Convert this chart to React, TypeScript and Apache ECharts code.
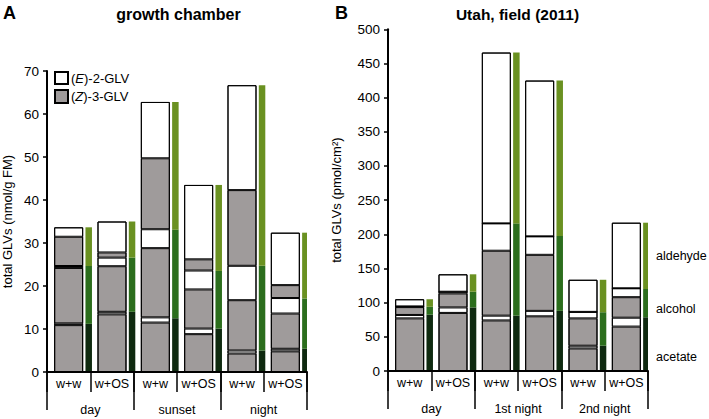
import React, { useEffect, useRef } from "react";
import * as echarts from "echarts";

// ---------- data ----------
const subCategories = ["w+w", "w+OS", "w+w", "w+OS", "w+w", "w+OS"];
const groupsA = ["day", "sunset", "night"];
const groupsB = ["day", "1st night", "2nd night"];
const compoundLabels = ["aldehyde", "alcohol", "acetate"];
const yTicksA = { min: 0, max: 70, interval: 10 };
const yTicksB = { min: 0, max: 500, interval: 50 };

// Panel A: growth chamber (nmol/g FM)
const aAcetateZ = [10.9, 13.4, 11.5, 8.8, 4.3, 4.8];
const aAcetateE = [0.4, 0.6, 1.2, 1.3, 0.7, 0.6];
const aAlcoholZ = [12.9, 10.6, 16.1, 9.1, 11.7, 8.2];
const aAlcoholE = [0.45, 2.0, 4.4, 4.4, 8.0, 3.6];
const aAldehydeZ = [6.8, 1.2, 16.5, 2.6, 17.6, 3.0];
const aAldehydeE = [2.2, 7.2, 13.1, 17.3, 24.4, 12.2];
const aTotAcetate = [11.2, 14.0, 12.5, 10.1, 5.0, 5.4];
const aTotAlcohol = [13.45, 12.6, 20.6, 13.4, 19.7, 11.7];
const aTotAldehyde = [9.0, 8.4, 29.7, 20.0, 42.0, 15.3];

// Panel B: Utah, field 2011 (pmol/cm2)
const bAcetateZ = [77, 85, 74, 80, 33, 65];
const bAcetateE = [5, 8, 7, 8, 4, 13];
const bAlcoholZ = [11.5, 20.5, 95, 82, 40, 30];
const bAlcoholE = [1, 2.5, 40, 27, 9.5, 13];
const bAldehydeZ = [0, 0, 0, 0, 0, 0];
const bAldehydeE = [10.5, 25.5, 250, 228, 47, 96];
const bTotAcetate = [82.4, 93, 81, 88, 37, 78.6];
const bTotAlcohol = [11.6, 23, 135, 109.6, 49, 41.4];
const bTotAldehyde = [11, 25.5, 250, 227.4, 47.5, 97];

// ---------- styles ----------
const FONT = "'Liberation Sans', Arial, Helvetica, sans-serif";
const GREY = "#9f9b9b";
const WHITE = "#ffffff";
const DARK_G = "#0f2a10";
const MID_G = "#2c6e1d";
const LIGHT_G = "#6a9121";
const GAP = "7.93%";
const MAIN_W = 29;
const GREEN_W = 6.5;
const GHOST_W = 8.15;

const sumOf = (...arrs: number[][]) => arrs[0].map((_, i) => arrs.reduce((s, a) => s + a[i], 0));

function mainSeries(name: string, data: number[], stack: string, axis: number, color: string) {
  return {
    type: "bar",
    name,
    data,
    stack,
    xAxisIndex: axis * 3,
    yAxisIndex: axis,
    barWidth: MAIN_W,
    barGap: GAP,
    itemStyle: { color, borderColor: "#000", borderWidth: 1 },
    emphasis: { disabled: true },
  };
}
function outlineSeries(name: string, data: number[], axis: number) {
  return {
    type: "bar",
    name,
    data,
    xAxisIndex: axis * 3 + 2,
    yAxisIndex: axis,
    barWidth: MAIN_W,
    z: 3,
    silent: true,
    itemStyle: { color: "rgba(0,0,0,0)", borderColor: "#000", borderWidth: 1 },
    emphasis: { disabled: true },
  };
}
function greenSeries(name: string, data: number[], stack: string, axis: number, color: string) {
  return {
    type: "bar",
    name,
    data,
    stack,
    xAxisIndex: axis * 3,
    yAxisIndex: axis,
    barWidth: GREEN_W,
    barGap: GAP,
    itemStyle: { color },
    emphasis: { disabled: true },
  };
}
function ghostSeries(axis: number) {
  return {
    type: "bar",
    name: "spacer" + axis,
    data: [],
    stack: "spacer" + axis,
    xAxisIndex: axis * 3,
    yAxisIndex: axis,
    barWidth: GHOST_W,
    barGap: GAP,
    silent: true,
  };
}

function xAxes(grid: number, groups: string[]) {
  const line = { color: "#000", width: 1.5 };
  return [
    {
      gridIndex: grid,
      type: "category",
      data: subCategories,
      position: "bottom",
      z: 5,
      axisLine: { show: true, lineStyle: { color: "#000", width: 2 } },
      axisTick: { show: true, interval: 0, length: 20, lineStyle: line },
      axisLabel: { interval: 0, margin: 5, fontSize: 12.5, color: "#000", fontFamily: FONT },
      splitLine: { show: false },
    },
    {
      gridIndex: grid,
      type: "category",
      data: groups,
      position: "bottom",
      axisLine: { show: false },
      axisTick: { show: true, interval: 0, length: 38, lineStyle: line },
      axisLabel: { interval: 0, margin: 31, fontSize: 12.5, color: "#000", fontFamily: FONT },
      splitLine: { show: false },
    },
    {
      gridIndex: grid,
      type: "category",
      data: subCategories,
      show: false,
    },
  ];
}

function yAxis(grid: number, ticks: { min: number; max: number; interval: number }, name: string, gap: number) {
  return {
    gridIndex: grid,
    type: "value",
    min: ticks.min,
    max: ticks.max,
    interval: ticks.interval,
    name,
    nameLocation: "middle",
    nameGap: gap,
    nameTextStyle: { fontSize: 13, color: "#000", fontFamily: FONT },
    axisLine: { show: true, lineStyle: { color: "#000", width: 2 } },
    axisTick: { show: true, length: 4, lineStyle: { color: "#000", width: 1.5 } },
    axisLabel: { margin: 8, fontSize: 13.5, color: "#000", fontFamily: FONT },
    splitLine: { show: false },
  };
}

export default function App() {
  const ref = useRef<HTMLDivElement>(null);
  useEffect(() => {
    if (!ref.current) return;
    const chart = echarts.init(ref.current, undefined, { renderer: "svg" });
    const totalA = sumOf(aAcetateZ, aAcetateE, aAlcoholZ, aAlcoholE, aAldehydeZ, aAldehydeE);
    const totalB = sumOf(bAcetateZ, bAcetateE, bAlcoholZ, bAlcoholE, bAldehydeZ, bAldehydeE);
    const option = {
      animation: false,
      backgroundColor: "#fff",
      textStyle: { fontFamily: FONT },
      grid: [
        { left: 47, top: 71, width: 260, height: 301 },
        { left: 388, top: 29.3, width: 260, height: 341.7 },
      ],
      xAxis: [...xAxes(0, groupsA), ...xAxes(1, groupsB)],
      yAxis: [
        yAxis(0, yTicksA, "total GLVs (nmol/g FM)", 33),
        yAxis(1, yTicksB, "total GLVs (pmol/cm²)", 45),
      ],
      series: [
        ghostSeries(0),
        mainSeries("acetate (Z)", aAcetateZ, "mainA", 0, GREY),
        mainSeries("acetate (E)", aAcetateE, "mainA", 0, WHITE),
        mainSeries("alcohol (Z)", aAlcoholZ, "mainA", 0, GREY),
        mainSeries("alcohol (E)", aAlcoholE, "mainA", 0, WHITE),
        mainSeries("aldehyde (Z)", aAldehydeZ, "mainA", 0, GREY),
        mainSeries("aldehyde (E)", aAldehydeE, "mainA", 0, WHITE),
        greenSeries("acetate", aTotAcetate, "greenA", 0, DARK_G),
        greenSeries("alcohol", aTotAlcohol, "greenA", 0, MID_G),
        greenSeries("aldehyde", aTotAldehyde, "greenA", 0, LIGHT_G),
        outlineSeries("total A", totalA, 0),
        ghostSeries(1),
        mainSeries("acetate (Z) B", bAcetateZ, "mainB", 1, GREY),
        mainSeries("acetate (E) B", bAcetateE, "mainB", 1, WHITE),
        mainSeries("alcohol (Z) B", bAlcoholZ, "mainB", 1, GREY),
        mainSeries("alcohol (E) B", bAlcoholE, "mainB", 1, WHITE),
        mainSeries("aldehyde (Z) B", bAldehydeZ, "mainB", 1, GREY),
        mainSeries("aldehyde (E) B", bAldehydeE, "mainB", 1, WHITE),
        greenSeries("acetate B", bTotAcetate, "greenB", 1, DARK_G),
        greenSeries("alcohol B", bTotAlcohol, "greenB", 1, MID_G),
        greenSeries("aldehyde B", bTotAldehyde, "greenB", 1, LIGHT_G),
        outlineSeries("total B", totalB, 1),
      ],
      graphic: [
        { type: "text", x: 3, y: 4, style: { text: "A", fontSize: 18, fontWeight: "bold", fontFamily: FONT, fill: "#000" } },
        { type: "text", x: 335, y: 4, style: { text: "B", fontSize: 18, fontWeight: "bold", fontFamily: FONT, fill: "#000" } },
        { type: "text", x: 178.5, y: 14, style: { text: "growth chamber", fontSize: 16, fontWeight: "bold", fontFamily: FONT, fill: "#000", align: "center", verticalAlign: "middle" } },
        { type: "text", x: 517.5, y: 14, style: { text: "Utah, field (2011)", fontSize: 15.5, fontWeight: "bold", fontFamily: FONT, fill: "#000", align: "center", verticalAlign: "middle" } },
        // legend
        { type: "rect", shape: { x: 55, y: 72, width: 13, height: 12 }, style: { fill: WHITE, stroke: "#000", lineWidth: 2 } },
        { type: "rect", shape: { x: 55, y: 90, width: 13, height: 13 }, style: { fill: GREY, stroke: "#000", lineWidth: 2 } },
        { type: "text", x: 71, y: 78.5, style: { text: "({i|E})-2-GLV", rich: { i: { fontStyle: "italic", fontSize: 13, fontFamily: FONT } }, fontSize: 13, fontFamily: FONT, fill: "#000", verticalAlign: "middle" } },
        { type: "text", x: 71, y: 96.5, style: { text: "({i|Z})-3-GLV", rich: { i: { fontStyle: "italic", fontSize: 13, fontFamily: FONT } }, fontSize: 13, fontFamily: FONT, fill: "#000", verticalAlign: "middle" } },
        // compound labels
        ...compoundLabels.map((t, i) => ({
          type: "text",
          x: 656,
          y: [256, 309, 357][i],
          style: { text: t, fontSize: 12.5, fontFamily: FONT, fill: "#000", verticalAlign: "middle" },
        })),
      ],
    };
    chart.setOption(option as any);
    return () => chart.dispose();
  }, []);
  return <div ref={ref} style={{ position: "fixed", left: 0, top: 0, width: 709, height: 419 }} />;
}
